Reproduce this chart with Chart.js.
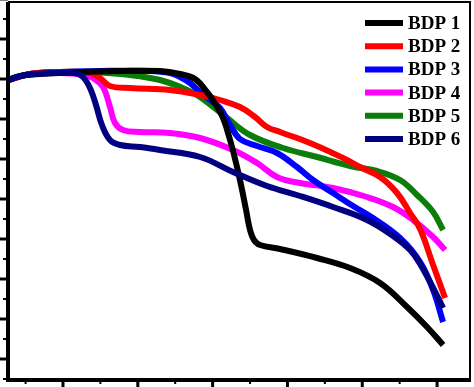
<!DOCTYPE html>
<html>
<head>
<meta charset="utf-8">
<script src="https://cdn.jsdelivr.net/npm/chart.js@4/dist/chart.umd.min.js"></script>
<style>
  html, body { margin: 0; padding: 0; background: #fff; }
  #wrap { width: 474px; height: 387px; }
</style>
</head>
<body>
<div id="wrap"><canvas id="c" width="474" height="387"></canvas></div>
<script>
// Series labels and colours
const labels = ["BDP 1", "BDP 2", "BDP 3", "BDP 4", "BDP 5", "BDP 6"];
const colors = ["#000000", "#ff0000", "#0000ff", "#ff00ff", "#0a7d0a", "#000080"];

// Temperature (x) and weight % (y) per series
const bdp1X = [26.5, 42.5, 69.3, 122.7, 176.2, 229.7, 256.4, 276.5, 292.5, 304.5, 313.9, 323.3, 331.3, 338, 344.7, 350, 355.3, 363.4, 390.1, 439.6, 483.7, 523.8, 559.9, 586.6, 608];
const bdp1Y = [99.75, 100.75, 101.25, 101.75, 102, 102, 101.25, 100, 96.75, 93.5, 90.25, 84.75, 79, 73.5, 67.25, 62.25, 59.75, 58.5, 57.5, 55.25, 52.75, 49, 43, 38, 33.5];

const bdp2X = [26.5, 55.9, 96, 136.1, 149.5, 162.8, 189.6, 243, 283.2, 309.9, 336.6, 356.7, 372.7, 390.1, 430.2, 474.3, 497, 523.8, 546.5, 563.9, 577.3, 594.7, 610.7];
const bdp2Y = [99.75, 101.25, 101.75, 101.5, 100.25, 98.25, 97.75, 97.25, 96, 94.75, 93, 90.5, 88, 86.75, 84, 80.25, 78, 75.5, 71.5, 66.5, 62.5, 53.5, 45.25];

const bdp3X = [26.5, 55.9, 96, 149.5, 216.3, 243, 256.4, 269.8, 283.2, 296.5, 309.9, 323.3, 336.6, 359.4, 386.1, 412.8, 434.2, 460.9, 487.7, 514.4, 550.5, 577.3, 594.7, 608];
const bdp3Y = [99.75, 101.25, 101.75, 102, 102, 101.5, 100.5, 99, 96.75, 94.75, 92.75, 88.5, 85, 83.25, 81.5, 78, 74.75, 71.5, 68.25, 65.25, 60.25, 54.25, 47.25, 39.25];

const bdp4X = [26.5, 55.9, 96, 129.4, 140.1, 153.5, 162.8, 169.5, 180.2, 202.9, 243, 283.2, 327.3, 359.4, 386.1, 416.8, 460.9, 506.4, 541.2, 567.9, 594.7, 610.7];
const bdp4Y = [99.75, 101.25, 101.5, 101, 100.25, 98, 93, 89, 87.25, 86.75, 86.5, 85.25, 82.25, 79, 75.5, 74, 72.75, 70.5, 68, 64.75, 60.5, 57.25];

const bdp5X = [26.5, 55.9, 96, 136.1, 189.6, 229.7, 263.1, 283.2, 319.3, 350, 394.1, 439.6, 483.7, 519.8, 550.5, 573.3, 594.7, 608];
const bdp5Y = [99.75, 101.25, 101.75, 101.75, 101, 99.75, 97.5, 95.5, 90.25, 86, 82.75, 80.5, 78.25, 77, 74.75, 71, 66.75, 62.25];

const bdp6X = [26.5, 49.2, 82.6, 116, 126.7, 136.1, 144.1, 152.1, 162.8, 176.2, 202.9, 229.7, 283.2, 327.3, 372.7, 416.8, 460.9, 506.4, 541.2, 563.9, 577.3, 594.7, 608];
const bdp6Y = [99.75, 101, 101.5, 101.5, 100.5, 97.75, 93.5, 88.5, 84.75, 83.5, 83, 82.25, 80.5, 76.75, 73.25, 70.75, 68, 64.75, 60.75, 57.25, 53.75, 47.75, 42.75];

// Axis ranges and tick values
const xMin = 26.5, xMax = 644;
const yMin = 24.75, yMax = 119.25;
const xMajorTicks = [100, 200, 300, 400, 500, 600];
const xMinorTicks = [50, 150, 250, 350, 450, 550];
const yMajorTicks = [30, 40, 50, 60, 70, 80, 90, 100, 110, 120];
const yMinorTicks = [25, 35, 45, 55, 65, 75, 85, 95, 105, 115];

const seriesX = [bdp1X, bdp2X, bdp3X, bdp4X, bdp5X, bdp6X];
const seriesY = [bdp1Y, bdp2Y, bdp3Y, bdp4Y, bdp5Y, bdp6Y];
const drawOrder = [1, 2, 3, 4, 5, 0];

const datasets = labels.map((lab, i) => ({
  label: lab,
  data: seriesX[i].map((x, k) => ({ x: x, y: seriesY[i][k] })),
  borderColor: colors[i],
  backgroundColor: colors[i],
  borderWidth: 6,
  pointRadius: 0,
  fill: false,
  tension: 0.4,
  order: drawOrder[i],
  borderCapStyle: 'butt'
}));

const framePlugin = {
  id: 'frame',
  afterDraw(chart) {
    const ctx = chart.ctx;
    const a = chart.chartArea;
    const xs = chart.scales.x, ys = chart.scales.y;
    ctx.save();
    ctx.strokeStyle = '#000';
    ctx.lineWidth = 2;
    ctx.beginPath();
    ctx.moveTo(a.left, a.top);
    ctx.lineTo(a.right, a.top);
    ctx.lineTo(a.right, a.bottom);
    ctx.stroke();
    ctx.lineWidth = 4;
    ctx.beginPath();
    ctx.moveTo(a.left, a.top);
    ctx.lineTo(a.left, a.bottom);
    ctx.lineTo(a.right + 1, a.bottom);
    ctx.stroke();
    ctx.lineWidth = 3;
    yMajorTicks.forEach(v => {
      const p = ys.getPixelForValue(v);
      ctx.beginPath(); ctx.moveTo(0, p); ctx.lineTo(a.left, p); ctx.stroke();
    });
    ctx.lineWidth = 2;
    yMinorTicks.forEach(v => {
      const p = ys.getPixelForValue(v);
      ctx.beginPath(); ctx.moveTo(a.left - 5, p); ctx.lineTo(a.left, p); ctx.stroke();
    });
    ctx.lineWidth = 3;
    xMajorTicks.forEach(v => {
      const p = xs.getPixelForValue(v);
      ctx.beginPath(); ctx.moveTo(p, a.bottom); ctx.lineTo(p, a.bottom + 8); ctx.stroke();
    });
    ctx.lineWidth = 2;
    xMinorTicks.forEach(v => {
      const p = xs.getPixelForValue(v);
      ctx.beginPath(); ctx.moveTo(p, a.bottom); ctx.lineTo(p, a.bottom + 4); ctx.stroke();
    });
    ctx.font = 'bold 19px "Liberation Serif", "Times New Roman", serif';
    ctx.textBaseline = 'middle';
    ctx.textAlign = 'left';
    chart.data.datasets.forEach((ds, i) => {
      const cy = a.top + 21 + i * 23.2;
      ctx.strokeStyle = ds.borderColor;
      ctx.lineWidth = 6;
      ctx.beginPath(); ctx.moveTo(a.left + 357, cy); ctx.lineTo(a.left + 395, cy); ctx.stroke();
      ctx.fillStyle = '#000';
      ctx.fillText(ds.label, a.left + 400, cy + 1);
    });
    ctx.restore();
  }
};

new Chart(document.getElementById('c'), {
  type: 'line',
  data: { datasets: datasets },
  options: {
    responsive: false,
    animation: false,
    layout: { padding: { left: 8, right: 4, top: 2, bottom: 7 } },
    plugins: { legend: { display: false }, tooltip: { enabled: false } },
    scales: {
      x: { type: 'linear', min: xMin, max: xMax, display: false },
      y: { type: 'linear', min: yMin, max: yMax, display: false }
    }
  },
  plugins: [framePlugin]
});
</script>
</body>
</html>
